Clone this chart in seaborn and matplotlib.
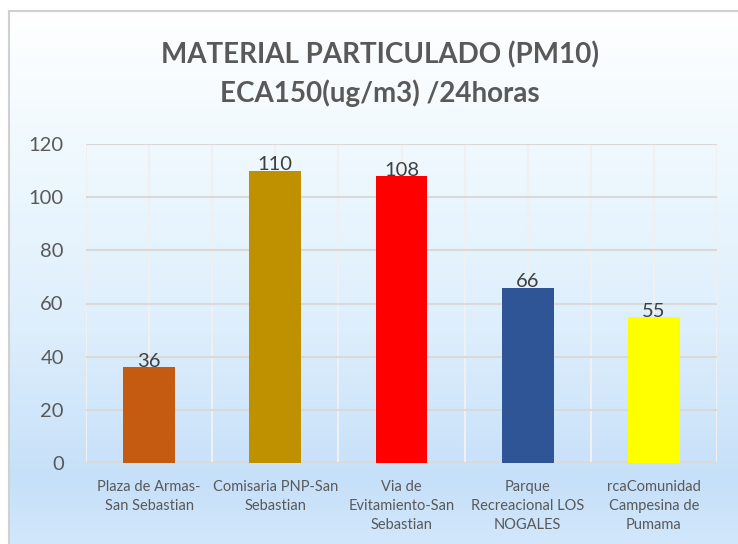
import numpy as np
import pandas as pd
import matplotlib
matplotlib.use("Agg")
import matplotlib.pyplot as plt
from matplotlib.colors import LinearSegmentedColormap
import seaborn as sns

# ---- data ----
categories = [
    "Plaza de Armas-\nSan Sebastian",
    "Comisaria PNP-San\nSebastian",
    "Via de\nEvitamiento-San\nSebastian",
    "Parque\nRecreacional LOS\nNOGALES",
    "rcaComunidad\nCampesina de\nPumama",
]
values = [36, 110, 108, 66, 55]
bar_colors = ["#c55a11", "#bf9000", "#ff0000", "#2f5597", "#ffff00"]
yticks = [0, 20, 40, 60, 80, 100, 120]
title_lines = ["MATERIAL PARTICULADO (PM10)", "ECA150(ug/m3) /24horas"]

df = pd.DataFrame({"cat": categories, "val": values})

sns.set_theme(style="white")
plt.rcParams["font.family"] = ["Lato", "DejaVu Sans"]

W, H = 738, 544
fig = plt.figure(figsize=(W / 100, H / 100), dpi=100)
fig.patch.set_facecolor("white")

# background chart-area gradient with frame
bg = fig.add_axes([9 / W, 0, 1 - 9 / W, 1 - 11 / H], zorder=0)
cmap = LinearSegmentedColormap.from_list(
    "bg", [(0.0, "#ffffff"), (0.25, "#f0f9fe"), (0.6, "#ddeefc"), (0.88, "#c6e0f9"), (1.0, "#d2e7fb")]
)
grad = np.linspace(0, 1, 256).reshape(-1, 1)
bg.imshow(grad, aspect="auto", cmap=cmap, extent=[0, 1, 0, 1], origin="upper")
bg.set_xticks([]); bg.set_yticks([])
for name, s in bg.spines.items():
    s.set_color("#d0d0d0"); s.set_linewidth(1.5)
    if name in ("right", "bottom"):
        s.set_visible(False)

ax = fig.add_axes([86 / W, 1 - 463 / H, (717 - 86) / W, (463 - 144) / H], zorder=1)
ax.patch.set_alpha(0)

sns.barplot(data=df, x="cat", y="val", hue="cat", palette=bar_colors,
            legend=False, width=0.41, ax=ax, saturation=1, zorder=3,
            linewidth=0, edgecolor="none")

ax.set_ylim(0, 120)
ax.set_xlim(-0.5, len(categories) - 0.5)
ax.set_yticks(yticks)
ax.set_yticklabels([str(t) for t in yticks])
ax.set_xlabel(""); ax.set_ylabel("")

# gridlines
ax.set_xticks(np.arange(-0.5, len(categories), 1.0), minor=True)
ax.grid(axis="y", which="major", color="#d9d9d9", linewidth=1.5, zorder=1)
ax.grid(axis="x", which="both", color="#f0f0f0", linewidth=1.5, zorder=1)
ax.set_axisbelow(True)
for name, s in ax.spines.items():
    s.set_visible(False)
ax.axhline(0, color="#d9d9d9", linewidth=1.5, zorder=2)

ax.tick_params(axis="both", which="both", length=0)
ax.tick_params(axis="y", labelsize=14.5, labelcolor="#595959", pad=16)
ax.tick_params(axis="x", labelsize=10.5, labelcolor="#595959", pad=12)
for lbl in ax.get_xticklabels():
    lbl.set_linespacing(1.45)

for c in ax.containers:
    ax.bar_label(c, fontsize=14.5, color="#404040", padding=-2)

fig.text(380 / W, 1 - 55 / H, title_lines[0], ha="center", va="center",
         fontsize=20, fontweight="bold", color="#595959")
fig.text(380 / W, 1 - 93 / H, title_lines[1], ha="center", va="center",
         fontsize=20, fontweight="bold", color="#595959")

fig.savefig("out.png", dpi=100)
